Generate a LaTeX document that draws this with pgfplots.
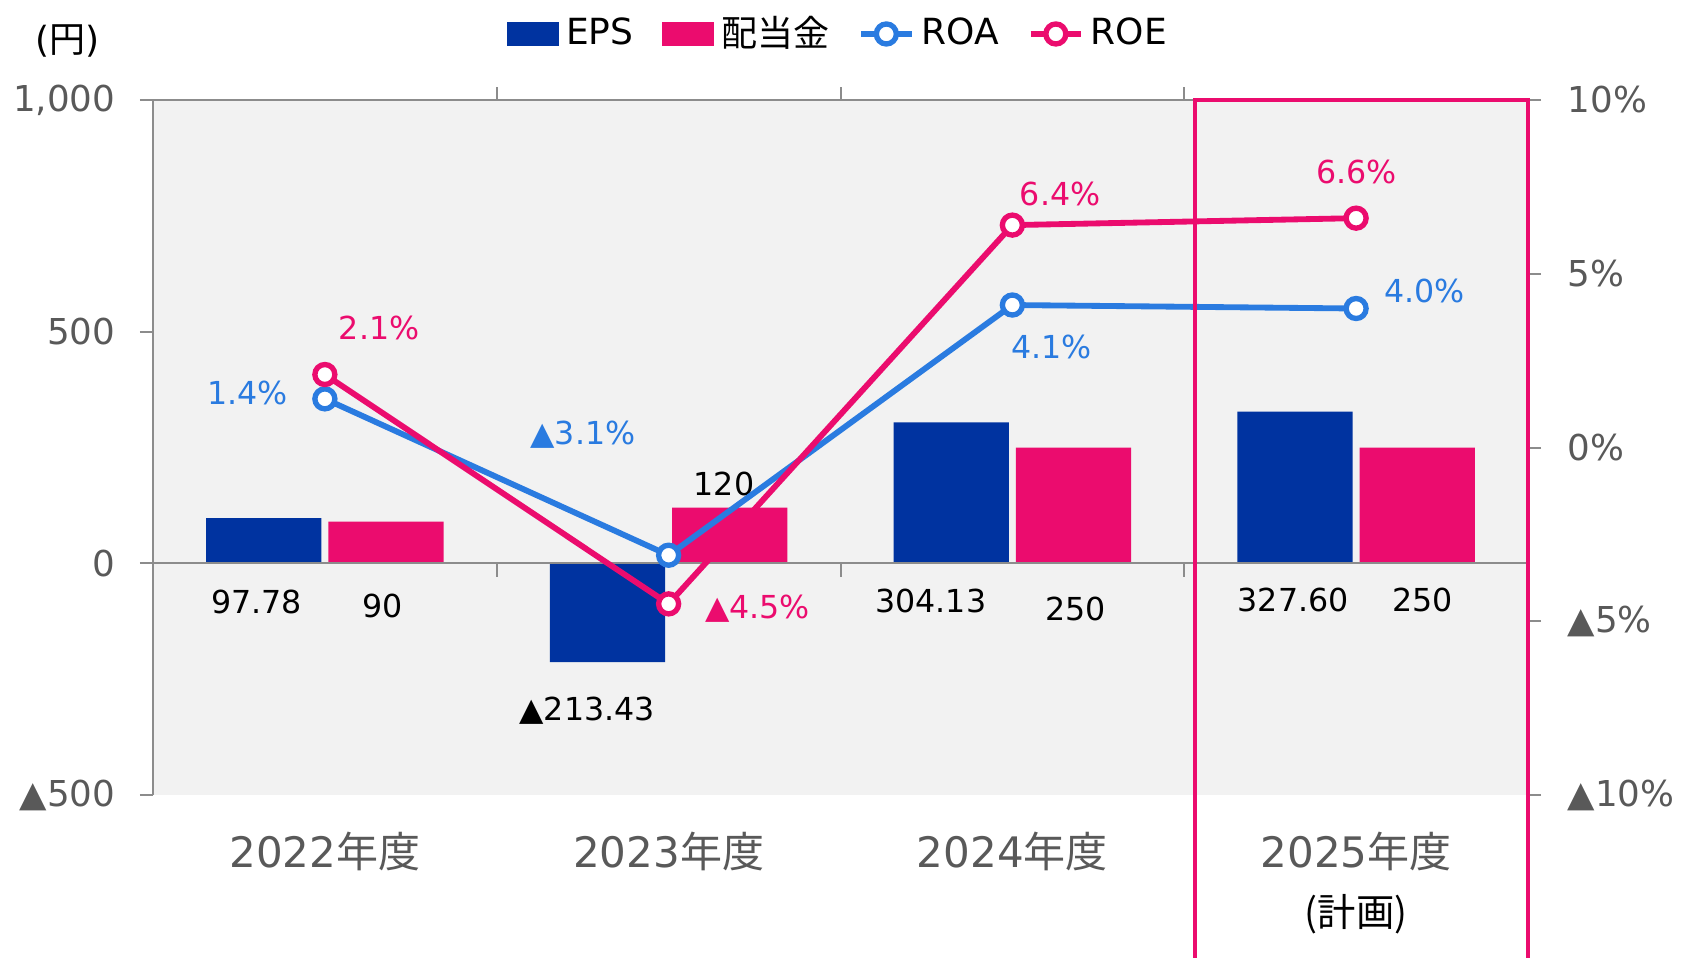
\documentclass[border=0pt]{standalone}
\usepackage{pgfplots}
\pgfplotsset{compat=1.18}
\usepackage{pgfplotstable}
\usepackage{fontspec}
\setmainfont{DejaVu Sans}
\newfontfamily\jp{Noto Sans CJK JP}

\definecolor{epsblue}{HTML}{0033A0}
\definecolor{divpink}{HTML}{EB0C6E}
\definecolor{roablue}{HTML}{2A7BE0}
\definecolor{plotbg}{HTML}{F2F2F2}
\definecolor{axgray}{HTML}{8C8C8C}
\definecolor{lblgray}{HTML}{595959}

% EPS / dividend (yen)
\pgfplotstableread{
x eps div
0 97.78 90
1 -213.43 120
2 304.13 250
3 327.60 250
}\barsdata
% ROA / ROE (%)
\pgfplotstableread{
x roa roe
0 1.4 2.1
1 -3.1 -4.5
2 4.1 6.4
3 4.0 6.6
}\ratiodata

\pgfplotsset{
  base/.style={
    scale only axis, width=412.5pt, height=208.5pt,
    xmin=-0.5, xmax=3.5, at={(0pt,0pt)}, anchor=south west,
    clip=false, axis x line=none,
    tick align=outside, major tick length=3.9pt,
    tick style={axgray, line width=0.6pt},
    axis line style={axgray, line width=0.6pt},
    tick label style={font=\fontsize{10.7}{12}\selectfont, text=lblgray},
    xtick=\empty,
  },
  epsleg/.style={legend image code/.code={\fill[epsblue] (0pt,-3.3pt) rectangle (15.2pt,3.3pt);}},
  divleg/.style={legend image code/.code={\fill[divpink] (0pt,-3.3pt) rectangle (15.2pt,3.3pt);}},
  lineleg/.style={legend image code/.code={\draw[mark repeat=2,mark phase=2,##1] plot coordinates {(0pt,0pt)(7.6pt,0pt)(15.2pt,0pt)};}},
}
\tikzset{
  barlbl/.style={font=\fontsize{9.5}{11}\selectfont, text=black, anchor=center},
  pctlbl/.style={font=\fontsize{9.5}{11}\selectfont, anchor=center},
}

\begin{document}
\begin{tikzpicture}
\begin{axis}[
  base,
  axis background/.style={fill=plotbg},
  axis y line*=left,
  ymin=-500, ymax=1000,
  ytick={-500,0,500,1000},
  yticklabels={▲500,0,500,{1,000}},
  yticklabel style={xshift=-3.9pt},
  ybar, bar width=0.335,
]
\addplot[fill=epsblue, draw=none, bar shift=-0.178] table[x=x,y=eps]{\barsdata};
\addplot[fill=divpink, draw=none, bar shift=0.178] table[x=x,y=div]{\barsdata};

% top line, zero line and category ticks
\draw[axgray, line width=0.6pt] (axis cs:-0.5,1000) -- (axis cs:3.5,1000);
\draw[axgray, line width=0.6pt] (axis cs:-0.5,0) -- (axis cs:3.5,0);
\draw[axgray, line width=0.6pt] (axis cs:0.5,1000) -- ++(0pt,4pt);
\draw[axgray, line width=0.6pt] (axis cs:1.5,1000) -- ++(0pt,4pt);
\draw[axgray, line width=0.6pt] (axis cs:2.5,1000) -- ++(0pt,4pt);
\draw[axgray, line width=0.6pt] (axis cs:0.5,0) -- ++(0pt,-4.2pt);
\draw[axgray, line width=0.6pt] (axis cs:1.5,0) -- ++(0pt,-4.2pt);
\draw[axgray, line width=0.6pt] (axis cs:2.5,0) -- ++(0pt,-4.2pt);

% bar value labels
\node[barlbl] at (axis cs:-0.199,-84) {97.78};
\node[barlbl] at (axis cs:0.168,-93) {90};
\node[barlbl] at (axis cs:0.763,-319) {▲213.43};
\node[barlbl] at (axis cs:1.161,172) {120};
\node[barlbl] at (axis cs:1.763,-81) {304.13};
\node[barlbl] at (axis cs:2.183,-98) {250};
\node[barlbl] at (axis cs:2.817,-79) {327.60};
\node[barlbl] at (axis cs:3.193,-79) {250};

% category labels
\node[anchor=base, text=lblgray, font=\fontsize{12.6}{15}\selectfont] at ([yshift=-21.7pt]axis cs:0,-500) {2022{\jp 年度}};
\node[anchor=base, text=lblgray, font=\fontsize{12.6}{15}\selectfont] at ([yshift=-21.7pt]axis cs:1,-500) {2023{\jp 年度}};
\node[anchor=base, text=lblgray, font=\fontsize{12.6}{15}\selectfont] at ([yshift=-21.7pt]axis cs:2,-500) {2024{\jp 年度}};
\node[anchor=base, text=lblgray, font=\fontsize{12.6}{15}\selectfont] at ([yshift=-21.7pt]axis cs:3,-500) {2025{\jp 年度}};
\node[anchor=base, text=black, font=\fontsize{11.5}{14}\selectfont] at ([yshift=-39.5pt]axis cs:3,-500) {\jp (計画)};
\end{axis}

\begin{axis}[
  base,
  axis y line*=right,
  ymin=-10, ymax=10,
  ytick={-10,-5,0,5,10},
  yticklabels={▲10\%,▲5\%,0\%,5\%,10\%},
  yticklabel style={xshift=4.5pt},
  legend columns=4,
  legend style={at={(0.5,1.095)}, anchor=center, draw=none, fill=none,
    font=\fontsize{10.8}{13}\selectfont, inner sep=0pt,
    /tikz/every even column/.append style={column sep=6.7pt}},
]
\addlegendimage{epsleg}
\addlegendentry{EPS}
\addlegendimage{divleg}
\addlegendentry{\jp 配当金}
\addplot[lineleg, roablue, line width=1.75pt, mark=*, mark size=3pt,
  mark options={fill=white, draw=roablue, line width=1.6pt}] table[x=x,y=roa]{\ratiodata};
\addlegendentry{ROA}
\addplot[lineleg, divpink, line width=1.75pt, mark=*, mark size=3pt,
  mark options={fill=white, draw=divpink, line width=1.6pt}] table[x=x,y=roe]{\ratiodata};
\addlegendentry{ROE}

% ratio labels
\node[pctlbl, text=roablue] at (axis cs:-0.224,1.57) {1.4\%};
\node[pctlbl, text=roablue] at (axis cs:0.751,0.36) {▲3.1\%};
\node[pctlbl, text=roablue] at (axis cs:2.114,2.90) {4.1\%};
\node[pctlbl, text=roablue] at (axis cs:3.199,4.51) {4.0\%};
\node[pctlbl, text=divpink] at (axis cs:0.158,3.43) {2.1\%};
\node[pctlbl, text=divpink] at (axis cs:1.259,-4.64) {▲4.5\%};
\node[pctlbl, text=divpink] at (axis cs:2.139,7.30) {6.4\%};
\node[pctlbl, text=divpink] at (axis cs:3.002,7.92) {6.6\%};

% plan-year frame
\draw[divpink, line width=1pt] ([yshift=-60pt]axis cs:2.531,-10) -- (axis cs:2.531,10)
  -- (axis cs:3.5,10) -- ([yshift=-60pt]axis cs:3.5,-10);
\end{axis}

\node[font=\fontsize{10.8}{12}\selectfont] at (-25.5pt,226.2pt) {({\jp 円})};

\pgfresetboundingbox
\path[use as bounding box] (-45.9pt,-48.6pt) rectangle (461.1pt,238.5pt);
\end{tikzpicture}
\end{document}
